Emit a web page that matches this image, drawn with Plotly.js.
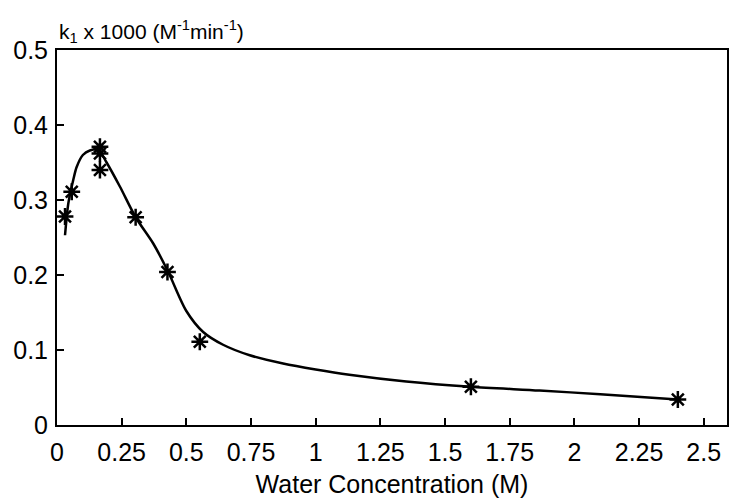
<!DOCTYPE html>
<html>
<head>
<meta charset="utf-8">
<script src="https://cdn.plot.ly/plotly-3.0.1.min.js"></script>
<style>html,body{margin:0;padding:0;background:#fff;}#chart{width:730px;height:500px;}</style>
</head>
<body>
<div id="chart"></div>
<script>
// Measured points (water concentration, M ; k1 x 1000)
const waterConc = [0.031, 0.057, 0.166, 0.166, 0.166, 0.304, 0.427, 0.552, 1.60, 2.40];
const k1Values  = [0.278, 0.311, 0.371, 0.362, 0.340, 0.277, 0.204, 0.111, 0.051, 0.034];

// Fitted curve
const fitX = [0.031, 0.044, 0.063, 0.076, 0.10, 0.127, 0.16, 0.19, 0.243, 0.304, 0.372, 0.43, 0.50, 0.565, 0.642, 0.745, 0.874, 1.0, 1.13, 1.35, 1.6, 1.865, 2.1, 2.4];
const fitY = [0.253, 0.296, 0.327, 0.344, 0.36, 0.366, 0.367, 0.351, 0.318, 0.277, 0.242, 0.204, 0.152, 0.124, 0.107, 0.093, 0.082, 0.074, 0.067, 0.058, 0.051, 0.046, 0.041, 0.034];

const xTickVals = [0, 0.25, 0.5, 0.75, 1, 1.25, 1.5, 1.75, 2, 2.25, 2.5];
const xTickText = ["0", "0.25", "0.5", "0.75", "1", "1.25", "1.5", "1.75", "2", "2.25", "2.5"];
const yTickVals = [0, 0.1, 0.2, 0.3, 0.4, 0.5];
const yTickText = ["0", "0.1", "0.2", "0.3", "0.4", "0.5"];

const fontFam = "Liberation Sans, Arial, sans-serif";

const traces = [
  {
    x: fitX, y: fitY, type: "scatter", mode: "lines",
    line: {color: "#000", width: 2.5, shape: "spline", smoothing: 0.8},
    hoverinfo: "skip", showlegend: false
  },
  {
    x: waterConc, y: k1Values, type: "scatter", mode: "markers",
    marker: {symbol: "asterisk-open", size: 14, color: "#000", line: {color: "#000", width: 2.5}},
    showlegend: false
  }
];

const layout = {
  width: 730, height: 500,
  margin: {l: 57, r: 3, t: 50, b: 75},
  paper_bgcolor: "#fff", plot_bgcolor: "#fff",
  font: {family: fontFam, color: "#000", size: 25},
  showlegend: false,
  xaxis: {
    range: [0, 2.59], tickvals: xTickVals, ticktext: xTickText,
    ticks: "inside", ticklen: 7, tickwidth: 2, tickcolor: "#000",
    showline: true, linecolor: "#000", linewidth: 2, mirror: true,
    showgrid: false, zeroline: false, ticklabelstandoff: 4,
    tickfont: {family: fontFam, size: 25, color: "#000"},
    title: {text: "Water Concentration (M)", font: {family: fontFam, size: 25, color: "#000"}, standoff: 10}
  },
  yaxis: {
    range: [0, 0.5], tickvals: yTickVals, ticktext: yTickText,
    ticks: "inside", ticklen: 7, tickwidth: 2, tickcolor: "#000",
    showline: true, linecolor: "#000", linewidth: 2, mirror: true,
    showgrid: false, zeroline: false, ticklabelstandoff: 2,
    tickfont: {family: fontFam, size: 25, color: "#000"}
  },
  annotations: [{
    text: "k<sub>1</sub> x 1000 (M<sup>-1</sup>min<sup>-1</sup>)",
    xref: "paper", yref: "paper", x: 0, y: 1, xanchor: "left", yanchor: "bottom",
    showarrow: false, font: {family: fontFam, size: 21, color: "#000"}, yshift: 2
  }]
};

Plotly.newPlot("chart", traces, layout, {displayModeBar: false, staticPlot: true});
</script>
</body>
</html>
